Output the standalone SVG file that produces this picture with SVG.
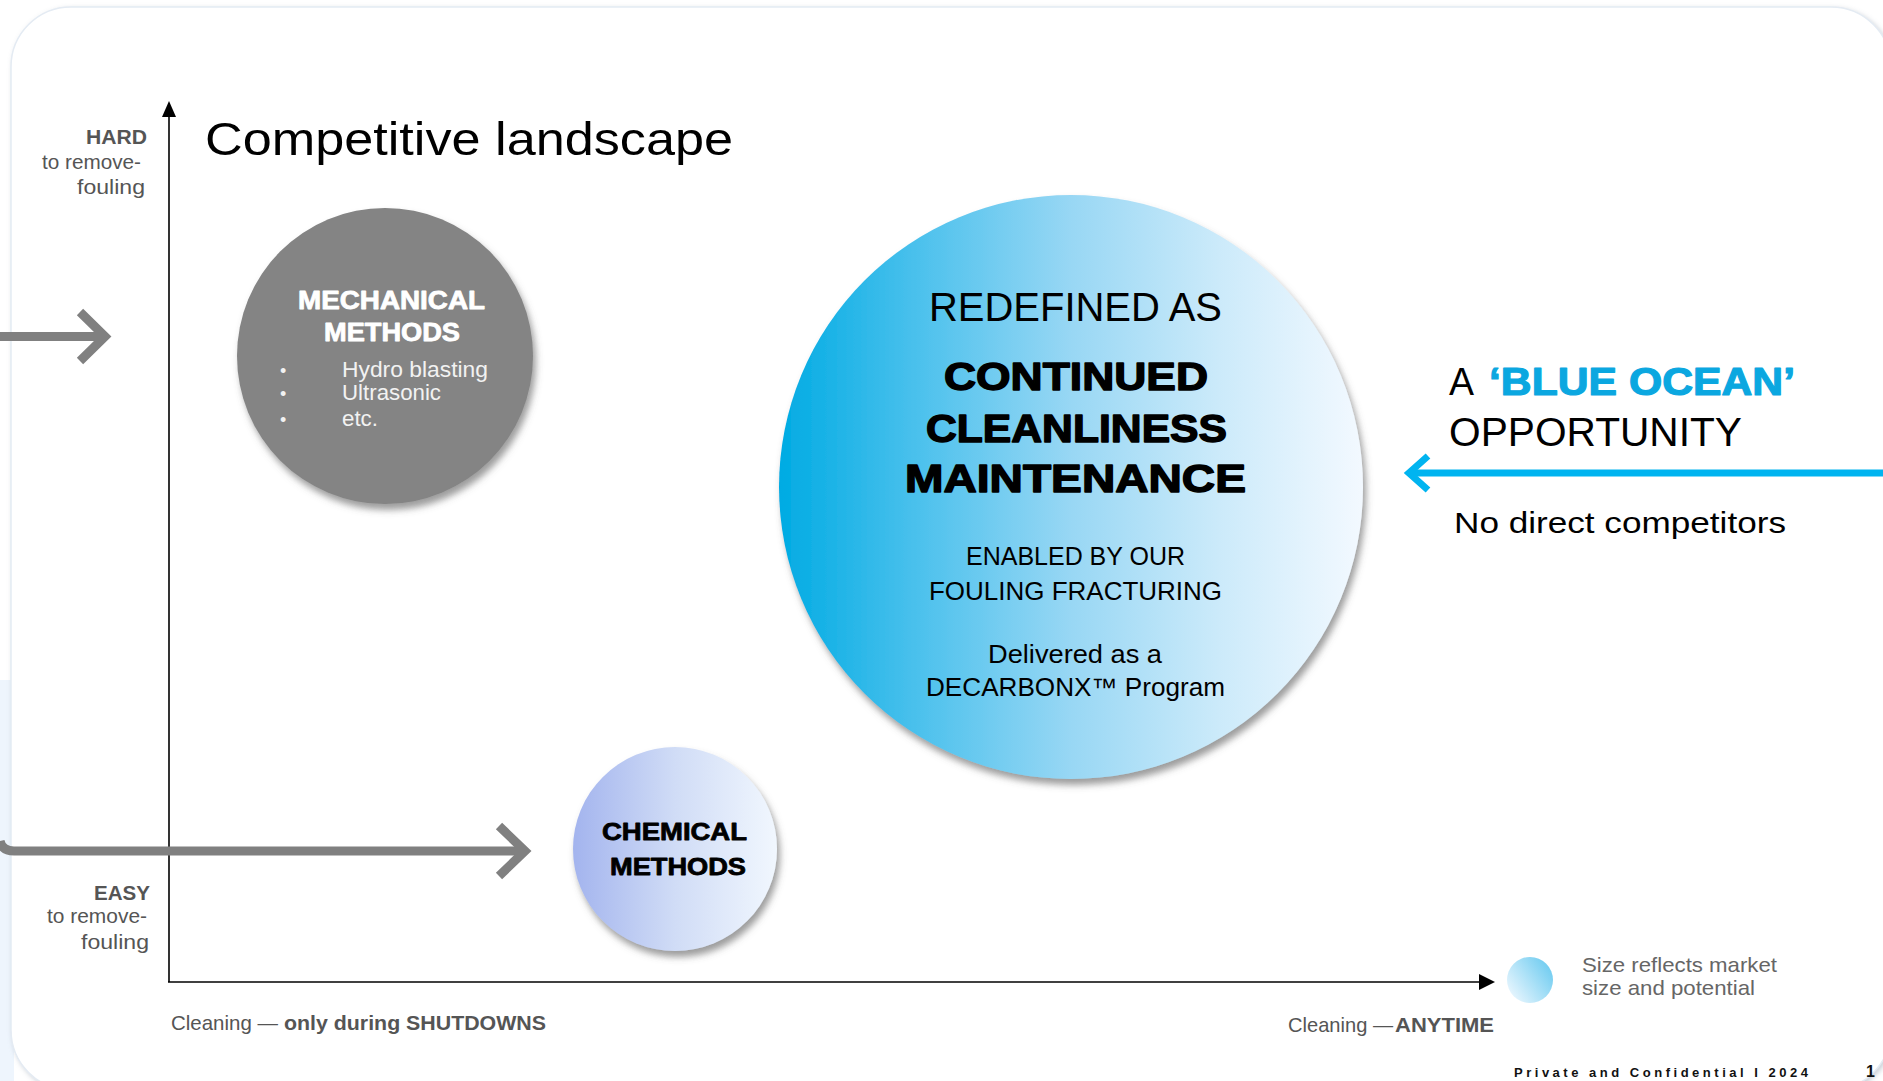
<svg xmlns="http://www.w3.org/2000/svg" width="1883" height="1081" viewBox="0 0 1883 1081">
  <defs>
    <linearGradient id="gradBlue" x1="0" y1="0" x2="1" y2="0">
      <stop offset="0" stop-color="#00abe3"/>
      <stop offset="0.25" stop-color="#4fc2ed"/>
      <stop offset="0.5" stop-color="#98d7f4"/>
      <stop offset="0.75" stop-color="#cbeafa"/>
      <stop offset="1" stop-color="#f3f9ff"/>
    </linearGradient>
    <linearGradient id="gradViolet" x1="0" y1="0" x2="1" y2="0">
      <stop offset="0" stop-color="#a3b4ee"/>
      <stop offset="0.5" stop-color="#d0dcf6"/>
      <stop offset="1" stop-color="#f1f7fe"/>
    </linearGradient>
    <linearGradient id="gradLegend" x1="1" y1="0.2" x2="0" y2="0.9">
      <stop offset="0" stop-color="#6ccbf0"/>
      <stop offset="1" stop-color="#f2f9ff"/>
    </linearGradient>
    <filter id="circleShadow" x="-20%" y="-20%" width="140%" height="140%">
      <feDropShadow dx="3" dy="6" stdDeviation="3.5" flood-color="#5a5a5a" flood-opacity="0.6"/>
    </filter>
    <filter id="cardShadow" x="-5%" y="-5%" width="110%" height="110%">
      <feDropShadow dx="2" dy="2" stdDeviation="2.5" flood-color="#8a96a6" flood-opacity="0.45"/>
    </filter>
    <style>
      text { font-family: "Liberation Sans", Arial, sans-serif; }
      .reg { font-weight: 400; }
      .heavy { font-weight: 700; stroke-linejoin: round; }
      .axisLbl { fill: #555555; font-size: 21px; }
      .axisLine { stroke: #000000; stroke-width: 1.6; fill: none; }
      .grayArrow { stroke: #808080; stroke-width: 9; fill: none; }
      .blueArrow { stroke: #00b4f0; stroke-width: 7; fill: none; }
    </style>
  </defs>

  <!-- page background and slide card -->
  <rect x="0" y="0" width="1883" height="1081" fill="#ffffff"/>
  <rect x="0" y="680" width="14" height="401" fill="#eef5fd"/>
  <rect x="11" y="7" width="1880" height="1083" rx="60" ry="60" fill="#ffffff" stroke="#e4ebf3" stroke-width="1.5" filter="url(#cardShadow)"/>

  <!-- title -->
  <text x="205" y="155" font-size="47" fill="#000000" textLength="528" lengthAdjust="spacingAndGlyphs">Competitive landscape</text>

  <!-- connectors: axes and arrows -->
  <g id="connectors">
    <line class="axisLine" x1="169" y1="112" x2="169" y2="982"/>
    <polygon points="169,101 162,117 176,117" fill="#000000"/>
    <line class="axisLine" x1="168" y1="982" x2="1482" y2="982"/>
    <polygon points="1495,982 1479,974 1479,990" fill="#000000"/>

    <!-- arrow into mechanical methods -->
    <line class="grayArrow" x1="0" y1="336.5" x2="103" y2="336.5"/>
    <polyline class="grayArrow" points="80,312 105,336.5 80,361" stroke-linecap="butt"/>

    <!-- arrow into chemical methods -->
    <path class="grayArrow" d="M0,841 Q2,851 14,851 L524,851"/>
    <polyline class="grayArrow" points="499,826 525,851 499,876"/>

    <!-- blue ocean arrow -->
    <line class="blueArrow" x1="1412" y1="473" x2="1883" y2="473"/>
    <polyline class="blueArrow" stroke-width="6" points="1428,456 1409,473 1428,490"/>
  </g>

  <!-- vertical axis labels -->
  <g id="label-hard">
    <text class="axisLbl heavy" x="86" y="144" textLength="61" lengthAdjust="spacingAndGlyphs">HARD</text>
    <text class="axisLbl reg" x="42" y="169" textLength="99" lengthAdjust="spacingAndGlyphs">to remove-</text>
    <text class="axisLbl reg" x="77" y="194" textLength="68" lengthAdjust="spacingAndGlyphs">fouling</text>
  </g>
  <g id="label-easy">
    <text class="axisLbl heavy" x="94" y="900" textLength="56" lengthAdjust="spacingAndGlyphs">EASY</text>
    <text class="axisLbl reg" x="47" y="923" textLength="100" lengthAdjust="spacingAndGlyphs">to remove-</text>
    <text class="axisLbl reg" x="81" y="949" textLength="68" lengthAdjust="spacingAndGlyphs">fouling</text>
  </g>

  <!-- horizontal axis labels -->
  <g id="label-shutdowns">
    <text class="axisLbl reg" x="171" y="1030" textLength="107" lengthAdjust="spacingAndGlyphs">Cleaning —</text>
    <text class="axisLbl heavy" x="284" y="1030" textLength="262" lengthAdjust="spacingAndGlyphs">only during SHUTDOWNS</text>
  </g>
  <g id="label-anytime">
    <text class="axisLbl reg" x="1288" y="1032" textLength="105" lengthAdjust="spacingAndGlyphs">Cleaning —</text>
    <text class="axisLbl heavy" x="1395" y="1032" textLength="99" lengthAdjust="spacingAndGlyphs">ANYTIME</text>
  </g>

  <!-- mechanical methods -->
  <g id="mechanical">
    <circle cx="385" cy="356" r="148" fill="#848484" filter="url(#circleShadow)"/>
    <text class="heavy" x="298" y="309" font-size="25" fill="#ffffff" stroke="#ffffff" stroke-width="0.8" textLength="187" lengthAdjust="spacingAndGlyphs">MECHANICAL</text>
    <text class="heavy" x="324" y="341" font-size="25" fill="#ffffff" stroke="#ffffff" stroke-width="0.8" textLength="136" lengthAdjust="spacingAndGlyphs">METHODS</text>
    <g fill="#f2f2f2" font-size="22">
      <text x="280" y="377" font-size="18">•</text>
      <text x="280" y="400" font-size="18">•</text>
      <text x="280" y="426" font-size="18">•</text>
      <text x="342" y="377" textLength="146" lengthAdjust="spacingAndGlyphs">Hydro blasting</text>
      <text x="342" y="400" textLength="99" lengthAdjust="spacingAndGlyphs">Ultrasonic</text>
      <text x="342" y="426" textLength="36" lengthAdjust="spacingAndGlyphs">etc.</text>
    </g>
  </g>

  <!-- continued cleanliness maintenance -->
  <g id="continued-cleanliness">
    <circle cx="1071" cy="487" r="292" fill="url(#gradBlue)" filter="url(#circleShadow)"/>
    <text x="929" y="321" font-size="40" fill="#000000" textLength="293" lengthAdjust="spacingAndGlyphs">REDEFINED AS</text>
    <g class="heavy" font-size="39" fill="#000000" stroke="#000000" stroke-width="1.4">
      <text x="944" y="390" textLength="264" lengthAdjust="spacingAndGlyphs">CONTINUED</text>
      <text x="926" y="442" textLength="301" lengthAdjust="spacingAndGlyphs">CLEANLINESS</text>
      <text x="905" y="492" textLength="341" lengthAdjust="spacingAndGlyphs">MAINTENANCE</text>
    </g>
    <g font-size="25" fill="#000000">
      <text x="966" y="565" textLength="219" lengthAdjust="spacingAndGlyphs">ENABLED BY OUR</text>
      <text x="929" y="600" textLength="293" lengthAdjust="spacingAndGlyphs">FOULING FRACTURING</text>
      <text x="988" y="663" textLength="174" lengthAdjust="spacingAndGlyphs">Delivered as a</text>
      <text x="926" y="696" textLength="299" lengthAdjust="spacingAndGlyphs">DECARBONX™ Program</text>
    </g>
  </g>

  <!-- chemical methods -->
  <g id="chemical">
    <circle cx="675" cy="849" r="102" fill="url(#gradViolet)" filter="url(#circleShadow)"/>
    <g class="heavy" font-size="24" fill="#000000" stroke="#000000" stroke-width="0.8">
      <text x="602" y="840" textLength="145" lengthAdjust="spacingAndGlyphs">CHEMICAL</text>
      <text x="610" y="875" textLength="136" lengthAdjust="spacingAndGlyphs">METHODS</text>
    </g>
  </g>

  <!-- blue ocean opportunity -->
  <g id="blue-ocean">
    <text x="1449" y="395" font-size="39" fill="#000000" textLength="25" lengthAdjust="spacingAndGlyphs">A</text>
    <text class="heavy" x="1489" y="395" font-size="39" fill="#0ba7e0" stroke="#0ba7e0" stroke-width="1.2" textLength="306" lengthAdjust="spacingAndGlyphs">‘BLUE OCEAN’</text>
    <text x="1449" y="446" font-size="40" fill="#000000" textLength="293" lengthAdjust="spacingAndGlyphs">OPPORTUNITY</text>
    <text x="1454" y="533" font-size="29" fill="#000000" textLength="332" lengthAdjust="spacingAndGlyphs">No direct competitors</text>
  </g>

  <!-- size legend -->
  <g id="legend">
    <circle cx="1530" cy="980" r="23" fill="url(#gradLegend)"/>
    <text x="1582" y="972" font-size="21" fill="#666666" textLength="195" lengthAdjust="spacingAndGlyphs">Size reflects market</text>
    <text x="1582" y="995" font-size="21" fill="#666666" textLength="173" lengthAdjust="spacingAndGlyphs">size and potential</text>
  </g>

  <!-- footer -->
  <g id="footer">
    <text class="heavy" x="1514" y="1077" font-size="13" fill="#111111" textLength="294" lengthAdjust="spacing">Private and Confidential I 2024</text>
    <text class="heavy" x="1866" y="1077" font-size="16" fill="#111111">1</text>
  </g>
</svg>
